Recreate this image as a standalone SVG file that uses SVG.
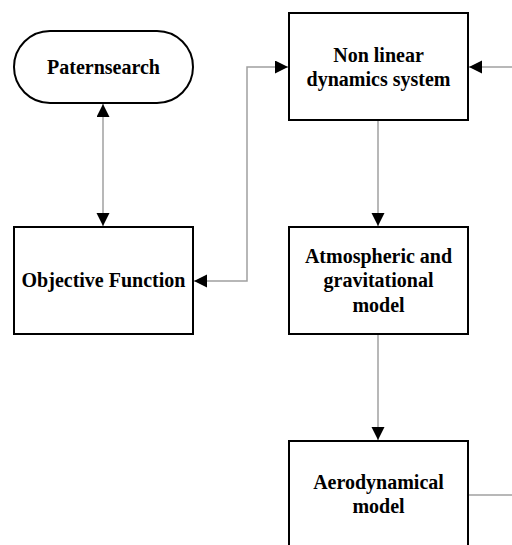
<svg xmlns="http://www.w3.org/2000/svg" width="512" height="545" viewBox="0 0 512 545">
<style>
.box{fill:#fff;stroke:#000;stroke-width:2}
.lbl{font-family:"Liberation Serif","Times New Roman",serif;font-weight:bold;font-size:20px;fill:#000;text-anchor:middle}
.con{fill:none;stroke:#a0a0a0;stroke-width:1.5}
</style>
<defs>
<marker id="arr" markerUnits="userSpaceOnUse" markerWidth="14" markerHeight="14" refX="13" refY="6.5" orient="auto-start-reverse">
<path d="M0,0 L13,6.5 L0,13 z" fill="#000"/>
</marker>
</defs>
<rect width="512" height="545" fill="#fff"/>
<g id="connectors">
<path class="con" d="M103,104 L103,226" marker-start="url(#arr)" marker-end="url(#arr)"/>
<path class="con" d="M194,281 L247,281 L247,67 L288,67" marker-start="url(#arr)" marker-end="url(#arr)"/>
<path class="con" d="M512,67 L469,67" marker-end="url(#arr)"/>
<path class="con" d="M378,121 L378,226" marker-end="url(#arr)"/>
<path class="con" d="M378,334 L378,440" marker-end="url(#arr)"/>
<path class="con" d="M468,495 L512,495"/>
</g>
<g id="paternsearch">
<rect class="box" x="14" y="31" width="179" height="72" rx="36" ry="36"/>
<text class="lbl" x="103.5" y="74">Paternsearch</text>
</g>
<g id="objective">
<rect class="box" x="14" y="227" width="179" height="107"/>
<text class="lbl" x="103.5" y="287">Objective Function</text>
</g>
<g id="nonlinear">
<rect class="box" x="289" y="13" width="179" height="107"/>
<text class="lbl" x="378.5" y="62">Non linear</text>
<text class="lbl" x="378.5" y="86">dynamics system</text>
</g>
<g id="atmospheric">
<rect class="box" x="289" y="227" width="179" height="107"/>
<text class="lbl" x="378.5" y="263">Atmospheric and</text>
<text class="lbl" x="378.5" y="287">gravitational</text>
<text class="lbl" x="378.5" y="312">model</text>
</g>
<g id="aerodynamical">
<rect class="box" x="289" y="441" width="179" height="120"/>
<text class="lbl" x="378.5" y="489">Aerodynamical</text>
<text class="lbl" x="378.5" y="513">model</text>
</g>
</svg>
